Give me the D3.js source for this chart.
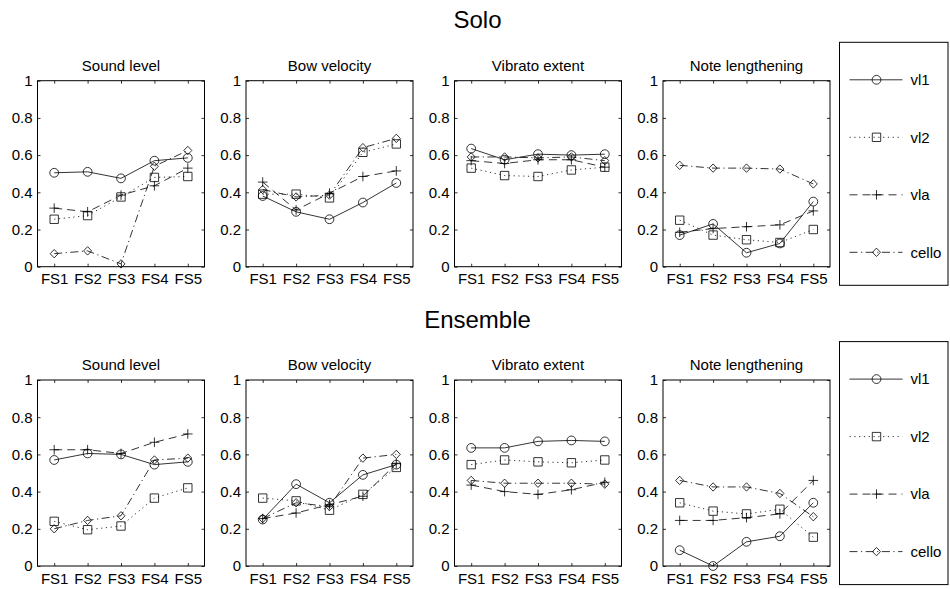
<!DOCTYPE html>
<html>
<head>
<meta charset="utf-8">
<script src="https://cdn.jsdelivr.net/npm/d3@7/dist/d3.min.js"></script>
<style>
  html, body { margin: 0; padding: 0; background: #fff; }
  svg { display: block; }
  text { font-family: "Liberation Sans", Arial, Helvetica, sans-serif; fill: #000; }
</style>
</head>
<body>
<svg id="fig" width="950" height="589"></svg>
<script>
// ---- data ----
const categories = ["FS1", "FS2", "FS3", "FS4", "FS5"];
const panelTitles = ["Sound level", "Bow velocity", "Vibrato extent", "Note lengthening"];
const rowTitles = ["Solo", "Ensemble"];
const instruments = ["vl1", "vl2", "vla", "cello"];
const yTicks = [0, 0.2, 0.4, 0.6, 0.8, 1];
const yTickLabels = ["0", "0.2", "0.4", "0.6", "0.8", "1"];

// each array: rows vl1, vl2, vla, cello; columns FS1..FS5
const soloSoundLevel = [
  [0.505, 0.51, 0.475, 0.57, 0.585],
  [0.255, 0.275, 0.375, 0.48, 0.485],
  [0.315, 0.295, 0.385, 0.435, 0.53],
  [0.07, 0.085, 0.015, 0.54, 0.625]
];
const soloBowVelocity = [
  [0.38, 0.295, 0.255, 0.345, 0.45],
  [0.39, 0.39, 0.37, 0.615, 0.66],
  [0.455, 0.305, 0.395, 0.485, 0.515],
  [0.415, 0.375, 0.385, 0.64, 0.69]
];
const soloVibratoExtent = [
  [0.635, 0.575, 0.605, 0.6, 0.605],
  [0.53, 0.49, 0.485, 0.52, 0.535],
  [0.57, 0.555, 0.575, 0.575, 0.535],
  [0.59, 0.59, 0.585, 0.59, 0.57]
];
const soloNoteLengthening = [
  [0.17, 0.23, 0.075, 0.125, 0.35],
  [0.25, 0.17, 0.145, 0.13, 0.2],
  [0.185, 0.205, 0.215, 0.225, 0.3],
  [0.545, 0.53, 0.53, 0.525, 0.445]
];
const ensembleSoundLevel = [
  [0.57, 0.605, 0.6, 0.545, 0.56],
  [0.24, 0.195, 0.215, 0.365, 0.42],
  [0.625, 0.625, 0.605, 0.665, 0.71],
  [0.2, 0.245, 0.27, 0.57, 0.58]
];
const ensembleBowVelocity = [
  [0.25, 0.44, 0.34, 0.49, 0.545],
  [0.365, 0.35, 0.3, 0.385, 0.53],
  [0.255, 0.285, 0.33, 0.375, 0.55],
  [0.255, 0.34, 0.32, 0.58, 0.6]
];
const ensembleVibratoExtent = [
  [0.635, 0.635, 0.67, 0.675, 0.67],
  [0.545, 0.57, 0.56, 0.555, 0.57],
  [0.435, 0.4, 0.385, 0.41, 0.45],
  [0.46, 0.445, 0.445, 0.445, 0.44]
];
const ensembleNoteLengthening = [
  [0.085, 0, 0.13, 0.16, 0.34],
  [0.34, 0.295, 0.28, 0.305, 0.155],
  [0.245, 0.245, 0.26, 0.28, 0.46],
  [0.46, 0.425, 0.425, 0.39, 0.265]
];

const rows = [
  [soloSoundLevel, soloBowVelocity, soloVibratoExtent, soloNoteLengthening],
  [ensembleSoundLevel, ensembleBowVelocity, ensembleVibratoExtent, ensembleNoteLengthening]
];

// ---- layout ----
const plotW = 167, plotH = 186;
const firstLeft = 37.5, colStep = 208.5;
const firstTop = 80.7, rowStep = 299.3;
const legendX = 839.5, legendW = 108.5, legendH = 243, legendTopOffset = -38.4;
const fontSize = 15;

// line style per instrument: solid, dotted, dashed, dash-dot
const dashes = [null, "1.2,3.6", "8,5", "8,3.5,1.2,3.5"];
const markerKinds = ["circle", "square", "plus", "diamond"];

function markerPath(kind) {
  switch (kind) {
    case "circle": {
      const r = 4.4;
      return `M${r},0A${r},${r} 0 1,1 ${-r},0A${r},${r} 0 1,1 ${r},0Z`;
    }
    case "square": {
      const s = 4.2;
      return `M${-s},${-s}H${s}V${s}H${-s}Z`;
    }
    case "plus": {
      const a = 4.8;
      return `M${-a},0H${a}M0,${-a}V${a}`;
    }
    case "diamond": {
      const w = 4.0, h = 4.2;
      return `M0,${-h}L${w},0L0,${h}L${-w},0Z`;
    }
  }
}

const svg = d3.select("#fig");

const x = d3.scaleLinear().domain([0.5, 5.5]).range([0, plotW]);
const y = d3.scaleLinear().domain([0, 1]).range([plotH, 0]);
const line = d3.line().x((d, i) => x(i + 1)).y(d => y(d));

rows.forEach((panels, r) => {
  const top = firstTop + r * rowStep;

  // row heading
  svg.append("text")
    .attr("x", 477.5)
    .attr("y", top - 52.4)
    .attr("text-anchor", "middle")
    .style("font-size", "24px")
    .text(rowTitles[r]);

  panels.forEach((series, c) => {
    const left = firstLeft + c * colStep;
    const g = svg.append("g").attr("transform", `translate(${left},${top})`);

    // title
    g.append("text")
      .attr("x", plotW / 2)
      .attr("y", -10)
      .attr("text-anchor", "middle")
      .style("font-size", fontSize + "px")
      .text(panelTitles[c]);

    // axes with inward ticks on all four sides
    const ax = [
      g.append("g").attr("transform", `translate(0,${plotH})`)
        .call(d3.axisBottom(x).tickValues([1, 2, 3, 4, 5])
          .tickFormat(d => categories[d - 1]).tickSizeInner(-3).tickSizeOuter(0).tickPadding(7)),
      g.append("g")
        .call(d3.axisTop(x).tickValues([1, 2, 3, 4, 5]).tickFormat("").tickSizeInner(-3).tickSizeOuter(0)),
      g.append("g")
        .call(d3.axisLeft(y).tickValues(yTicks)
          .tickFormat((d, i) => yTickLabels[i]).tickSizeInner(-3).tickSizeOuter(0).tickPadding(5)),
      g.append("g").attr("transform", `translate(${plotW},0)`)
        .call(d3.axisRight(y).tickValues(yTicks).tickFormat("").tickSizeInner(-3).tickSizeOuter(0))
    ];
    ax.forEach(a => {
      a.select(".domain").remove();
      a.selectAll("line").attr("stroke", "#000").attr("stroke-width", 0.8);
      a.selectAll("text").style("font-size", fontSize + "px")
        .style("font-family", "'Liberation Sans', Arial, sans-serif").attr("fill", "#000");
    });

    // box
    g.append("rect")
      .attr("x", 0).attr("y", 0).attr("width", plotW).attr("height", plotH)
      .attr("fill", "none").attr("stroke", "#000").attr("stroke-width", 1);

    // series
    series.forEach((vals, k) => {
      g.append("path")
        .attr("d", line(vals))
        .attr("fill", "none")
        .attr("stroke", "#000")
        .attr("stroke-width", 0.8)
        .attr("stroke-dasharray", dashes[k]);
      g.selectAll(null)
        .data(vals)
        .join("path")
        .attr("transform", (d, i) => `translate(${x(i + 1)},${y(d)})`)
        .attr("d", markerPath(markerKinds[k]))
        .attr("fill", "none")
        .attr("stroke", "#000")
        .attr("stroke-width", 0.8);
    });
  });

  // legend
  const lg = svg.append("g").attr("transform", `translate(${legendX},${top + legendTopOffset})`);
  lg.append("rect")
    .attr("width", legendW).attr("height", legendH)
    .attr("fill", "#fff").attr("stroke", "#000").attr("stroke-width", 1);
  instruments.forEach((name, k) => {
    const ly = 37.5 + k * 57.5;
    lg.append("line")
      .attr("x1", 10).attr("x2", 63).attr("y1", ly).attr("y2", ly)
      .attr("stroke", "#000").attr("stroke-width", 0.8)
      .attr("stroke-dasharray", dashes[k]);
    lg.append("path")
      .attr("transform", `translate(37,${ly})`)
      .attr("d", markerPath(markerKinds[k]))
      .attr("fill", "none").attr("stroke", "#000").attr("stroke-width", 0.8);
    lg.append("text")
      .attr("x", 71).attr("y", ly)
      .attr("dy", "0.35em")
      .style("font-size", fontSize + "px")
      .text(name);
  });
});
</script>
</body>
</html>
